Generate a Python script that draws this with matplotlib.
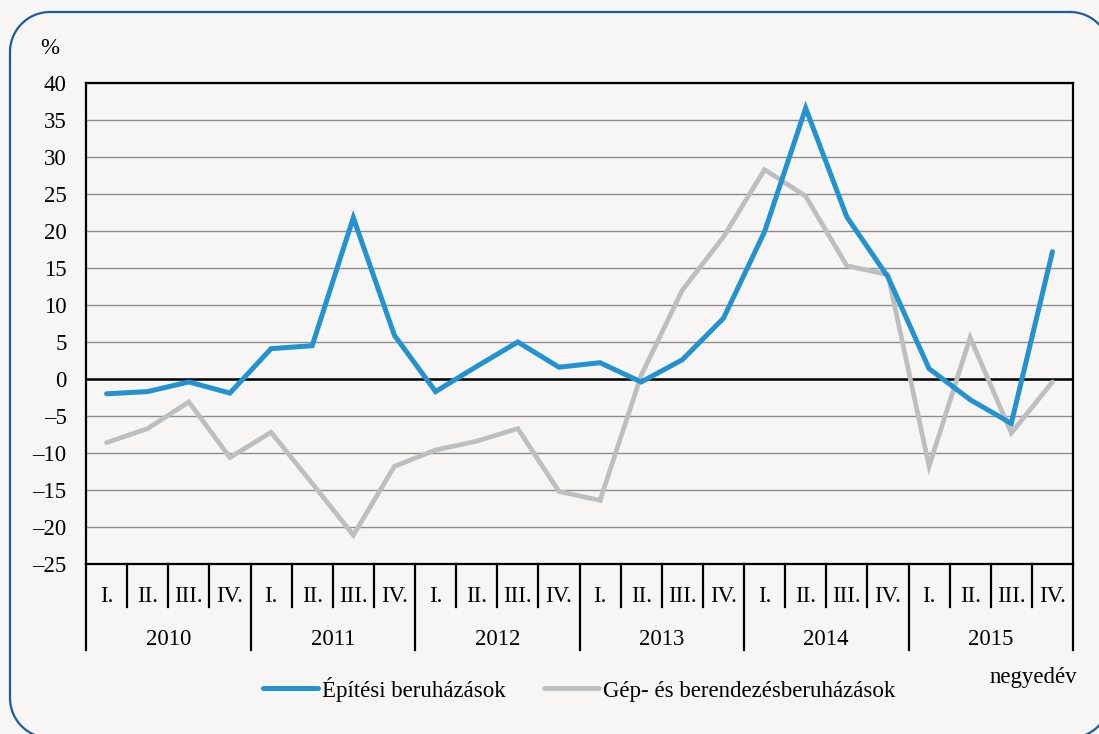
import numpy as np
import matplotlib.pyplot as plt
from matplotlib.lines import Line2D
from matplotlib.transforms import IdentityTransform, blended_transform_factory

# Chart data (quarterly growth, %)
years = ["2010", "2011", "2012", "2013", "2014", "2015"]
quarters = ["I.", "II.", "III.", "IV."]
epitesi = [-2.0, -1.7, -0.4, -1.9, 4.1, 4.5, 21.8, 5.9, -1.7, 1.7, 5.0, 1.6,
           2.2, -0.4, 2.6, 8.2, 19.9, 36.6, 21.9, 13.8, 1.4, -2.8, -6.0, 17.2]
gep = [-8.6, -6.7, -3.1, -10.6, -7.2, -14.1, -21.1, -11.8, -9.6, -8.4, -6.7, -15.2,
       -16.4, 0.5, 12.0, 19.2, 28.3, 24.7, 15.3, 14.1, -11.8, 5.6, -7.3, -0.4]
y_ticks = [-25, -20, -15, -10, -5, 0, 5, 10, 15, 20, 25, 30, 35, 40]
series_names = ["Építési beruházások", "Gép- és berendezésberuházások"]

blue = "#2393cf"
grey = "#bcbec0"
bg = "#f7f6f4"
fs = 16.5

plt.rcParams["font.family"] = ["Liberation Serif", "DejaVu Serif"]

fig = plt.figure(figsize=(10.99, 7.34), dpi=100, facecolor=bg)
ax = fig.add_axes([86 / 1099, 1 - 564 / 734, (1073 - 86) / 1099, (564 - 83) / 734])
ax.set_facecolor(bg)


# rounded frame around the whole chart, built as a polyline in pixel coords
def rounded_frame(left, top, right, bottom, r, h=734):
    xs, ys = [], []
    corners = [(right - r, top + r, 90, 0), (right - r, bottom - r, 0, -90),
               (left + r, bottom - r, -90, -180), (left + r, top + r, 180, 90)]
    for cx, cy, a0, a1 in corners:
        a = np.radians(np.linspace(a0, a1, 30))
        xs.extend(cx + r * np.cos(a))
        ys.extend(h - (cy - r * np.sin(a)))
    xs.append(xs[0])
    ys.append(ys[0])
    return xs, ys


fx, fy = rounded_frame(10, 12, 1110, 738, 40)
fig.add_artist(Line2D(fx, fy, transform=IdentityTransform(), color="#1a5c9c",
                      linewidth=1.6, zorder=0))

x = list(range(len(epitesi)))
ax.plot(x, gep, color=grey, linewidth=3.4, solid_joinstyle="miter",
        solid_capstyle="round", zorder=3)
ax.plot(x, epitesi, color=blue, linewidth=3.6, solid_joinstyle="miter",
        solid_capstyle="round", zorder=4)

ax.set_xlim(-0.5, len(x) - 0.5)
ax.set_ylim(-25, 40)
ax.set_yticks(y_ticks)
ax.set_yticklabels([str(t).replace("-", "–") for t in y_ticks], fontsize=fs)
ax.tick_params(axis="y", length=0, pad=14)
ax.set_xticks([])

ax.yaxis.grid(True, color="#8c8c8c", linewidth=1.0)
ax.set_axisbelow(True)
ax.axhline(0, color="black", linewidth=1.8, zorder=2)
for s in ax.spines.values():
    s.set_color("black")
    s.set_linewidth(1.6)

# category axis: quarters and years with separators
trans = blended_transform_factory(ax.transData, ax.transAxes)
for i in x:
    ax.text(i, -0.068, quarters[i % 4], transform=trans, ha="center", va="center", fontsize=fs)
    if i % 4 != 0:
        ax.plot([i - 0.5, i - 0.5], [0, -0.09], transform=trans, color="black",
                linewidth=1.6, clip_on=False)
for k, yr in enumerate(years):
    ax.text(4 * k + 1.5, -0.157, yr, transform=trans, ha="center", va="center", fontsize=fs)
for k in range(len(years) + 1):
    ax.plot([4 * k - 0.5, 4 * k - 0.5], [0, -0.179], transform=trans, color="black",
            linewidth=1.6, clip_on=False)

fig.text(50 / 1099, 1 - 49 / 734, "%", ha="center", va="center", fontsize=fs)
fig.text(1033 / 1099, 1 - 677 / 734, "negyedév", ha="center", va="center", fontsize=fs)

handles = [Line2D([], [], color=blue, linewidth=3.6, solid_capstyle="round"),
           Line2D([], [], color=grey, linewidth=3.4, solid_capstyle="round")]
fig.legend(handles, series_names, loc="center", bbox_to_anchor=(0.527, 1 - 689 / 734),
           ncol=2, frameon=False, fontsize=fs, handlelength=2.4, handletextpad=0.15,
           columnspacing=1.7)

fig.savefig("out.png", dpi=100, facecolor=bg)
